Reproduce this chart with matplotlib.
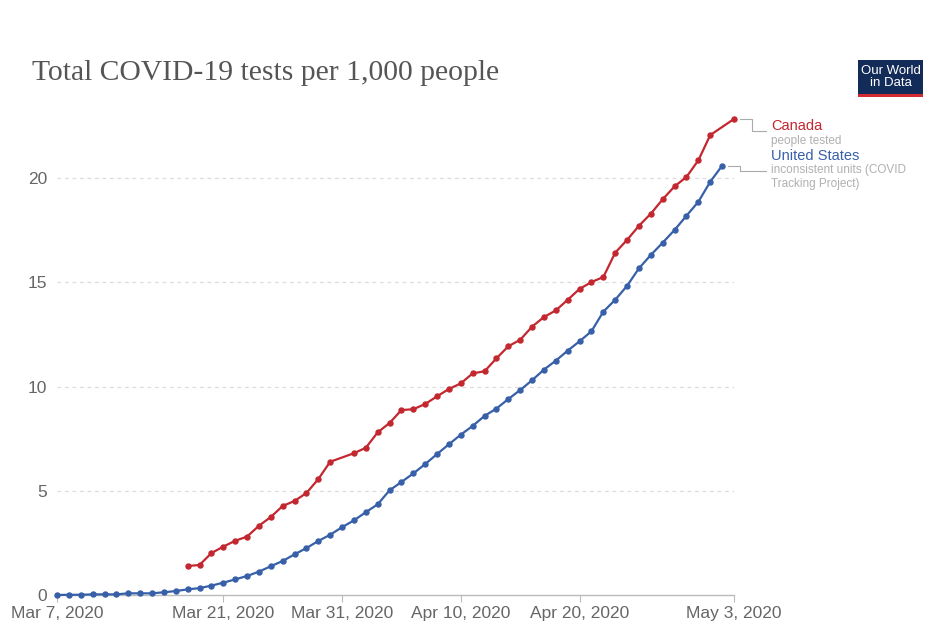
import numpy as np
import pandas as pd
import matplotlib
matplotlib.use("Agg")
import matplotlib.pyplot as plt
import matplotlib.dates as mdates
from matplotlib.lines import Line2D
from matplotlib.patches import Rectangle

title = "Total COVID-19 tests per 1,000 people"

# United States, daily from Mar 7, 2020
us_start = "2020-03-07"
us_values = [0.00, 0.01, 0.01, 0.03, 0.03, 0.03, 0.08, 0.08, 0.08, 0.13,
             0.19, 0.27, 0.33, 0.45, 0.59, 0.75, 0.91, 1.12, 1.38, 1.63,
             1.95, 2.25, 2.59, 2.89, 3.25, 3.58, 3.97, 4.35, 5.02, 5.42,
             5.83, 6.28, 6.76, 7.23, 7.69, 8.11, 8.59, 8.94, 9.40, 9.83,
             10.30, 10.81, 11.24, 11.72, 12.17, 12.65, 13.59, 14.16, 14.83, 15.67,
             16.31, 16.90, 17.51, 18.19, 18.86, 19.82, 20.59]

# Canada, daily from Mar 18, 2020 (None = no report that day)
canada_start = "2020-03-18"
canada_values = [1.39, 1.44, 2.01, 2.32, 2.60, 2.80, 3.32, 3.74, 4.27, 4.51,
                 4.89, 5.56, 6.39, None, 6.80, 7.06, 7.80, 8.25, 8.87, 8.91,
                 9.16, 9.53, 9.88, 10.15, 10.63, 10.73, 11.35, 11.93, 12.24, 12.87,
                 13.33, 13.65, 14.16, 14.68, 15.01, 15.25, 16.42, 17.03, 17.71, 18.29,
                 18.98, 19.60, 20.05, 20.85, 22.06, None, 22.83]

tick_dates = ["2020-03-07", "2020-03-21", "2020-03-31", "2020-04-10", "2020-04-20", "2020-05-03"]
tick_labels = ["Mar 7, 2020", "Mar 21, 2020", "Mar 31, 2020", "Apr 10, 2020", "Apr 20, 2020", "May 3, 2020"]
y_ticks = [0, 5, 10, 15, 20]

RED = "#c3272f"
BLUE = "#3760a8"

us = pd.Series(us_values, index=pd.date_range(us_start, periods=len(us_values), freq="D"), dtype=float).dropna()
ca = pd.Series(canada_values, index=pd.date_range(canada_start, periods=len(canada_values), freq="D"), dtype=float).dropna()

plt.rcParams['font.family'] = ['Liberation Sans', 'DejaVu Sans']

fig = plt.figure(figsize=(9.5, 6.32), dpi=100)
ax = fig.add_axes([57 / 950, 1 - 595 / 632, (734 - 57) / 950, (595 - 94.6) / 632])

ax.plot(us.index, us.values, color=BLUE, lw=1.6, marker="o", ms=3.6, clip_on=False, zorder=3)
ax.plot(ca.index, ca.values, color=RED, lw=1.6, marker="o", ms=3.6, clip_on=False, zorder=3)

ax.set_xlim(pd.Timestamp(tick_dates[0]), pd.Timestamp(tick_dates[-1]))
ax.set_ylim(0, 24)

ax.set_xticks([pd.Timestamp(d) for d in tick_dates])
ax.set_xticklabels(tick_labels)
ax.set_yticks(y_ticks)
ax.set_yticklabels([str(v) for v in y_ticks])

ax.tick_params(axis="x", length=5, color="#bbbbbb", labelsize=12.5, labelcolor="#666666", pad=3)
ax.tick_params(axis="y", length=0, labelsize=12.5, labelcolor="#666666", pad=7)

for s in ["top", "right", "left"]:
    ax.spines[s].set_visible(False)
ax.spines["bottom"].set_color("#bbbbbb")
ax.spines["bottom"].set_linewidth(1.0)

for v in y_ticks[1:]:
    ax.axhline(v, color="#dddddd", lw=0.9, ls=(0, (3, 3)), zorder=1)

# title
fig.text(32 / 950, 1 - 73 / 632, title, family=["Liberation Serif", "DejaVu Serif"],
         fontsize=21.3, color="#555555", va="center", ha="left")

# logo
logo = Rectangle((858 / 950, 1 - 97 / 632), 65 / 950, 37 / 632, transform=fig.transFigure,
                 facecolor="#132b58", edgecolor="none")
fig.add_artist(logo)
strip = Rectangle((858 / 950, 1 - 97 / 632), 65 / 950, 3 / 632, transform=fig.transFigure,
                  facecolor="#d42b32", edgecolor="none")
fig.add_artist(strip)
fig.text(890.5 / 950, 1 - 77 / 632, "Our World\nin Data", color="white", fontsize=9.5,
         ha="center", va="center", linespacing=1.0)

# end labels with connector lines
fig.canvas.draw()
H = 632


def to_px(x, y):
    px, py = ax.transData.transform((mdates.date2num(x), y))
    return px, H - py


def connector(pts):
    xs = [p[0] / 950 for p in pts]
    ys = [1 - p[1] / H for p in pts]
    fig.add_artist(Line2D(xs, ys, transform=fig.transFigure, color="#aaaaaa", lw=0.8))


cx, cy = to_px(ca.index[-1], ca.values[-1])
connector([(cx + 6, cy), (cx + 18, cy), (cx + 18, 131), (cx + 32, 131)])
ux, uy = to_px(us.index[-1], us.values[-1])
connector([(ux + 6, uy), (ux + 18, uy), (ux + 18, 171), (ux + 44, 171)])

lx = 771 / 950
fig.text(lx, 1 - 126 / H, "Canada", color=RED, fontsize=10.5, va="center")
fig.text(lx, 1 - 141 / H, "people tested", color="#b0b0b0", fontsize=8.5, va="center")
fig.text(lx, 1 - 156 / H, "United States", color=BLUE, fontsize=10.5, va="center")
fig.text(lx, 1 - 170 / H, "inconsistent units (COVID", color="#b0b0b0", fontsize=8.5, va="center")
fig.text(lx, 1 - 184 / H, "Tracking Project)", color="#b0b0b0", fontsize=8.5, va="center")

fig.savefig("out.png", dpi=100)
